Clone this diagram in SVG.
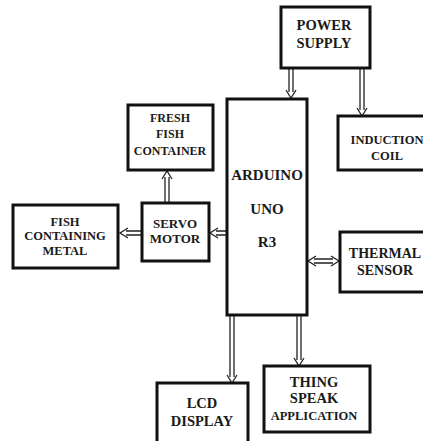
<svg xmlns="http://www.w3.org/2000/svg" width="423" height="441" viewBox="0 0 423 441">
<style>
.box{fill:#fff;stroke:#111;stroke-width:3}
.t{font-family:'Liberation Serif','DejaVu Serif','Times New Roman',serif;font-weight:bold;fill:#1a1a1a;text-anchor:middle}
.a{fill:none;stroke:#222;stroke-width:1.3}
</style>
<rect width="423" height="441" fill="#fff"/>
<g id="connectors">
<path class="a" d="M289 68V92M293 68V92M286 90L291 98L296 90"/>
<path class="a" d="M360 68V110M364 68V110M357 108L362 116L367 108"/>
<path class="a" d="M230 315V377M234 315V377M227 375L232 383L237 375"/>
<path class="a" d="M297 315V360M301 315V360M294 358L299 366L304 358"/>
<path class="a" d="M314 259H333M314 263H333M316 256L308 261L316 266M331 256L339 261L331 266"/>
<path class="a" d="M227 231H216M227 235H216M218 228L210 233L218 238"/>
<path class="a" d="M142 231H126M142 235H126M128 228L120 233L128 238"/>
<path class="a" d="M165 203V177M169 203V177M162 179L167 171L172 179"/>
</g>
<g id="power-supply">
<rect class="box" x="281" y="7" width="89" height="61"/>
<text class="t" x="324" y="30" font-size="14.5">POWER</text>
<text class="t" x="324" y="48" font-size="14.5">SUPPLY</text>
</g>
<g id="arduino">
<rect class="box" x="227" y="99" width="80" height="216"/>
<text class="t" x="267" y="180" font-size="15">ARDUINO</text>
<text class="t" x="267" y="214" font-size="15">UNO</text>
<text class="t" x="267" y="247" font-size="15">R3</text>
</g>
<g id="induction-coil">
<rect class="box" x="338" y="116" width="90" height="54"/>
<text class="t" x="387" y="144" font-size="12.5">INDUCTION</text>
<text class="t" x="387" y="160" font-size="12.5">COIL</text>
</g>
<g id="thermal-sensor">
<rect class="box" x="340" y="232" width="90" height="60"/>
<text class="t" x="385" y="258" font-size="14">THERMAL</text>
<text class="t" x="385" y="275" font-size="14">SENSOR</text>
</g>
<g id="fresh-fish-container">
<rect class="box" x="128" y="105" width="85" height="65"/>
<text class="t" x="170" y="122" font-size="12">FRESH</text>
<text class="t" x="170" y="138" font-size="12">FISH</text>
<text class="t" x="170" y="155" font-size="12">CONTAINER</text>
</g>
<g id="servo-motor">
<rect class="box" x="142" y="203" width="67" height="58"/>
<text class="t" x="175" y="228" font-size="13">SERVO</text>
<text class="t" x="175" y="243" font-size="13">MOTOR</text>
</g>
<g id="fish-containing-metal">
<rect class="box" x="13" y="205" width="105" height="63"/>
<text class="t" x="65" y="226" font-size="12.5">FISH</text>
<text class="t" x="65" y="240" font-size="12.5">CONTAINING</text>
<text class="t" x="65" y="255" font-size="12.5">METAL</text>
</g>
<g id="lcd-display">
<rect class="box" x="157" y="383" width="91" height="65"/>
<text class="t" x="202" y="408" font-size="14.5">LCD</text>
<text class="t" x="202" y="426" font-size="14.5">DISPLAY</text>
</g>
<g id="thingspeak-application">
<rect class="box" x="264" y="366" width="106" height="66"/>
<text class="t" x="314" y="387" font-size="14.5">THING</text>
<text class="t" x="314" y="403" font-size="14.5">SPEAK</text>
<text class="t" x="314" y="420" font-size="12.5">APPLICATION</text>
</g>
</svg>
